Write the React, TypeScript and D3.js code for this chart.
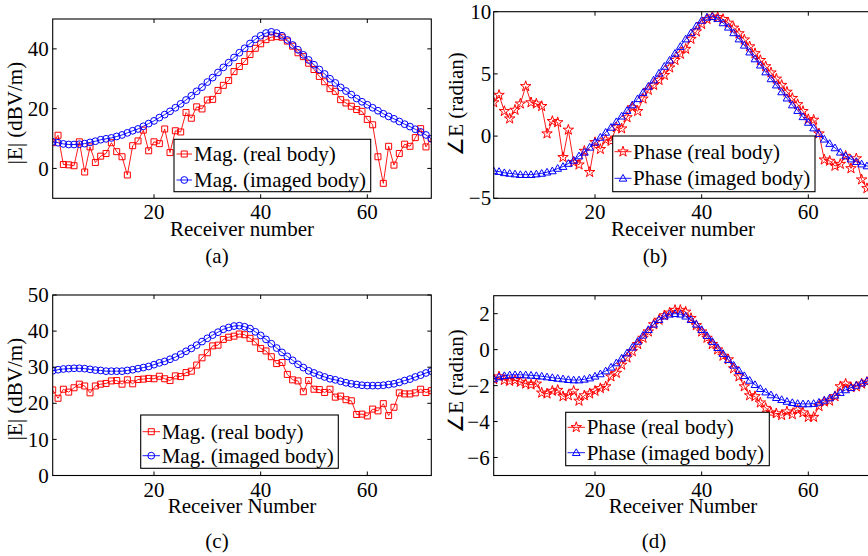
import React from "react";
import * as d3 from "d3";

// ---------- data ----------
const receivers = d3.range(1, 73);
const xTickValues = [20, 40, 60];

const magRealA = [
  8.6, 11.1, 1.3, 1.2, 0.9, 8.9, -1.2, 7.2, 2.0, 4.1,
  5.0, 8.6, 5.6, 3.9, -2.2, 7.6, 9.2, 12.8, 5.9, 8.9,
  8.3, 13.2, 5.3, 12.6, 12.2, 18.7, 16.8, 20.6, 19.9, 22.9,
  23.1, 26.1, 27.8, 29.4, 32.4, 34.1, 35.8, 38.1, 40.2, 41.7,
  43.1, 43.9, 44.1, 43.9, 42.6, 40.9, 38.7, 37.4, 35.2, 33.1,
  30.8, 29.0, 26.7, 25.8, 23.0, 21.9, 20.8, 19.7, 19.1, 16.4,
  14.6, 3.9, -5.0, 7.4, 1.1, 5.0, 8.1, 7.4, 10.3, 13.3,
  7.2, 10.0,
];
const magImagA = [
  8.9, 8.6, 8.2, 8.0, 8.0, 8.1, 8.3, 8.7, 9.1, 9.6,
  9.9, 10.2, 10.7, 11.2, 11.9, 12.6, 13.2, 14.1, 15.0, 15.9,
  17.0, 18.0, 19.1, 20.3, 21.6, 22.9, 24.3, 25.8, 27.2, 28.9,
  30.4, 32.1, 33.8, 35.4, 37.1, 38.7, 40.2, 41.8, 43.2, 44.4,
  45.3, 45.7, 45.3, 44.4, 43.0, 41.3, 39.7, 38.0, 36.3, 34.7,
  33.1, 31.6, 30.0, 28.6, 27.1, 25.9, 24.7, 23.4, 22.3, 21.3,
  20.3, 19.3, 18.3, 17.4, 16.6, 15.7, 14.8, 14.0, 13.1, 12.2,
  11.2, 9.9,
];
const phaseRealB = [
  2.7, 3.3, 2.0, 1.4, 2.1, 2.6, 4.0, 2.7, 2.6, 2.4,
  0.2, 1.2, 1.1, -1.7, 0.5, -2.1, -2.3, -1.2, -2.9, -0.5,
  -1.05, -0.3, -0.4, 0.7, 0.6, 1.5, 2.3, 2.0, 3.0, 3.7,
  4.1, 4.5, 4.9, 5.5, 6.1, 6.6, 7.0, 7.8, 8.4, 9.0,
  9.4, 9.6, 9.55, 9.4, 9.1, 8.7, 8.25, 7.75, 7.2, 6.65,
  6.1, 5.6, 5.1, 4.6, 4.1, 3.55, 3.05, 2.55, 2.0, 1.35,
  1.3, 0.2, -1.9, -2.0, -2.4, -2.25, -1.6, -2.6, -1.8, -3.5,
  -4.2, -4.4,
];
const phaseImagB = [
  -2.8, -2.85, -2.95, -3.0, -3.05, -3.1, -3.1, -3.1, -3.05, -3.0,
  -2.9, -2.8, -2.6, -2.45, -2.2, -1.95, -1.6, -1.3, -0.9, -0.5,
  -0.1, 0.3, 0.7, 1.15, 1.6, 2.05, 2.5, 3.0, 3.5, 4.0,
  4.5, 5.05, 5.6, 6.1, 6.65, 7.2, 7.8, 8.3, 8.85, 9.3,
  9.55, 9.6, 9.45, 9.1, 8.75, 8.3, 7.8, 7.3, 6.75, 6.2,
  5.7, 5.15, 4.6, 4.1, 3.55, 3.05, 2.5, 2.05, 1.55, 1.1,
  0.65, 0.2, -0.25, -0.6, -0.95, -1.3, -1.6, -1.85, -2.05, -2.25,
  -2.4, -2.55,
];
const magRealC = [
  23.7, 21.4, 23.9, 23.1, 24.3, 25.3, 24.8, 22.9, 24.8, 25.3,
  25.5, 26.2, 26.3, 25.3, 26.5, 25.4, 26.6, 26.7, 26.9, 26.8,
  27.5, 26.8, 26.3, 27.6, 27.4, 28.5, 28.9, 30.6, 32.6, 34.0,
  35.9, 36.1, 37.7, 38.3, 38.6, 39.2, 39.0, 38.0, 37.0, 35.2,
  34.5, 32.9, 31.0, 31.3, 28.0, 26.5, 26.2, 23.2, 26.3, 23.9,
  23.8, 23.0, 23.9, 21.7, 22.0, 21.0, 20.7, 16.9, 17.0, 16.5,
  18.4, 17.9, 19.9, 16.6, 18.9, 22.9, 22.6, 22.6, 22.9, 23.9,
  23.0, 23.5,
];
const magImagC = [
  29.0, 29.3, 29.5, 29.6, 29.7, 29.7, 29.6, 29.4, 29.2, 29.1,
  28.9, 28.9, 28.9, 28.9, 29.1, 29.3, 29.6, 29.9, 30.2, 30.7,
  31.2, 31.6, 32.2, 32.8, 33.6, 34.4, 35.2, 36.1, 37.1, 38.0,
  38.9, 39.7, 40.5, 41.0, 41.4, 41.5, 41.2, 40.7, 39.8, 38.8,
  37.7, 36.5, 35.3, 34.1, 33.0, 31.9, 30.8, 29.9, 29.0, 28.4,
  27.8, 27.3, 26.8, 26.5, 26.1, 25.7, 25.4, 25.2, 25.0, 24.9,
  24.9, 24.9, 25.0, 25.2, 25.4, 25.8, 26.3, 26.7, 27.3, 27.8,
  28.4, 28.9,
];
const phaseRealD = [
  -1.65, -1.5, -1.7, -1.75, -1.7, -1.8, -1.9, -1.95, -1.9, -2.4,
  -2.45, -2.3, -2.25, -2.6, -2.55, -2.3, -2.85, -2.55, -2.45, -2.3,
  -2.15, -2.05, -1.5, -1.3, -0.85, -0.45, -0.1, 0.3, 0.65, 1.0,
  1.4, 1.65, 1.9, 2.05, 2.2, 2.2, 2.1, 1.75, 1.35, 1.0,
  0.65, 0.3, 0.0, -0.35, -0.55, -1.05, -1.5, -2.05, -2.55, -2.6,
  -2.95, -3.25, -3.5, -3.55, -3.65, -3.45, -3.6, -3.35, -3.5, -3.75,
  -3.75, -3.15, -2.9, -2.85, -2.6, -2.05, -1.9, -2.1, -2.05, -1.9,
  -1.8, -1.7,
];
const phaseImagD = [
  -1.63, -1.52, -1.45, -1.41, -1.4, -1.4, -1.41, -1.43, -1.45, -1.48,
  -1.52, -1.56, -1.6, -1.63, -1.67, -1.69, -1.69, -1.65, -1.58, -1.48,
  -1.35, -1.19, -0.98, -0.74, -0.48, -0.19, 0.13, 0.46, 0.8, 1.11,
  1.41, 1.67, 1.86, 1.97, 2.0, 1.97, 1.86, 1.67, 1.41, 1.11,
  0.78, 0.45, 0.11, -0.22, -0.56, -0.87, -1.17, -1.45, -1.71, -1.95,
  -2.17, -2.36, -2.52, -2.67, -2.78, -2.88, -2.95, -3.0, -3.02, -3.02,
  -3.0, -2.93, -2.82, -2.69, -2.54, -2.39, -2.24, -2.12, -1.99, -1.86,
  -1.74, -1.63,
];

const yTicksA = [0, 20, 40];
const yTicksB = [-5, 0, 5, 10];
const yTicksC = [0, 10, 20, 30, 40, 50];
const yTicksD = [-6, -4, -2, 0, 2];

const legendMag = ["Mag. (real body)", "Mag. (imaged body)"];
const legendPhase = ["Phase (real body)", "Phase (imaged body)"];
const xLabelLower = "Receiver number";
const xLabelUpper = "Receiver Number";
const yLabelMag = "|E| (dBV/m)";
const yLabelPhase = "\u2220E (radian)";

// ---------- styling ----------
const FONT = '"Liberation Serif", "Times New Roman", Times, serif';
const RED = "#ff0000";
const BLUE = "#0000ff";
const FS = 21;

type MarkerKind = "square" | "circle" | "star" | "triangle";

function Marker({ kind, x, y, color }: { kind: MarkerKind; x: number; y: number; color: string }) {
  if (kind === "circle") {
    return <circle cx={x} cy={y} r={3.4} fill="none" stroke={color} strokeWidth={1} />;
  }
  const type =
    kind === "square" ? d3.symbolSquare : kind === "star" ? d3.symbolStar : d3.symbolTriangle;
  const size = kind === "square" ? 36 : kind === "star" ? 34 : 26;
  const d = d3.symbol().type(type).size(size)() as string;
  return (
    <path
      d={d}
      transform={`translate(${x},${y + (kind === "triangle" ? 0.6 : 0)})`}
      fill="none"
      stroke={color}
      strokeWidth={1}
    />
  );
}

type Series = { values: number[]; color: string; marker: MarkerKind };

type PanelProps = {
  id: string;
  frame: { x0: number; x1: number; y0: number; y1: number };
  yDomain: [number, number];
  yTicks: number[];
  series: Series[];
  legendLabels: string[];
  legendBox: { x0: number; x1: number; y0: number; y1: number; rows: number[]; lx0: number; lx1: number; tx: number };
  yLabel: { text: string; x: number; y: number };
  xLabel: string;
  caption: { text: string; x: number; y: number };
  yLabelGap: number;
};

const fmt = (v: number) => (v < 0 ? "\u2212" + Math.abs(v) : String(v));

function Panel(p: PanelProps) {
  const { frame } = p;
  const x = d3.scaleLinear().domain([1, 72]).range([frame.x0, frame.x1]);
  const y = d3.scaleLinear().domain(p.yDomain).range([frame.y1, frame.y0]);
  const line = d3
    .line<number>()
    .x((_, i) => x(receivers[i]))
    .y((d) => y(d));
  const tl = 4;
  const clipId = `clip-${p.id}`;
  return (
    <g>
      <defs>
        <clipPath id={clipId}>
          <rect x={frame.x0} y={frame.y0} width={frame.x1 - frame.x0} height={frame.y1 - frame.y0} />
        </clipPath>
      </defs>
      <rect
        x={frame.x0}
        y={frame.y0}
        width={frame.x1 - frame.x0}
        height={frame.y1 - frame.y0}
        fill="white"
      />
      <g clipPath={`url(#${clipId})`}>
        {p.series.map((s, si) => (
          <g key={si}>
            <path d={line(s.values) as string} fill="none" stroke={s.color} strokeWidth={0.9} />
            {s.values.map((v, i) => (
              <Marker key={i} kind={s.marker} x={x(receivers[i])} y={y(v)} color={s.color} />
            ))}
          </g>
        ))}
      </g>
      {/* ticks */}
      {xTickValues.map((t) => (
        <g key={`xt${t}`}>
          <line x1={x(t)} x2={x(t)} y1={frame.y1} y2={frame.y1 - tl} stroke="black" strokeWidth={1} />
          <line x1={x(t)} x2={x(t)} y1={frame.y0} y2={frame.y0 + tl} stroke="black" strokeWidth={1} />
          <text x={x(t)} y={frame.y1 + 21} textAnchor="middle" fontFamily={FONT} fontSize={FS}>
            {fmt(t)}
          </text>
        </g>
      ))}
      {p.yTicks.map((t) => (
        <g key={`yt${t}`}>
          <line x1={frame.x0} x2={frame.x0 + tl} y1={y(t)} y2={y(t)} stroke="black" strokeWidth={1} />
          <line x1={frame.x1} x2={frame.x1 - tl} y1={y(t)} y2={y(t)} stroke="black" strokeWidth={1} />
          <text
            x={frame.x0 - p.yLabelGap}
            y={y(t)}
            dy="0.34em"
            textAnchor="end"
            fontFamily={FONT}
            fontSize={FS}
          >
            {fmt(t)}
          </text>
        </g>
      ))}
      <rect
        x={frame.x0}
        y={frame.y0}
        width={frame.x1 - frame.x0}
        height={frame.y1 - frame.y0}
        fill="none"
        stroke="black"
        strokeWidth={1.1}
      />
      {/* legend */}
      <rect
        x={p.legendBox.x0}
        y={p.legendBox.y0}
        width={p.legendBox.x1 - p.legendBox.x0}
        height={p.legendBox.y1 - p.legendBox.y0}
        fill="white"
        stroke="black"
        strokeWidth={1.1}
      />
      {p.series.map((s, si) => {
        const ry = p.legendBox.rows[si];
        const lb = p.legendBox;
        return (
          <g key={`lg${si}`}>
            <line x1={lb.lx0} x2={lb.lx1} y1={ry} y2={ry} stroke={s.color} strokeWidth={0.9} />
            <Marker kind={s.marker} x={(lb.lx0 + lb.lx1) / 2} y={ry} color={s.color} />
            <text x={lb.tx} y={ry + 7} fontFamily={FONT} fontSize={FS}>
              {p.legendLabels[si]}
            </text>
          </g>
        );
      })}
      {/* axis labels */}
      <text
        x={(frame.x0 + frame.x1) / 2}
        y={frame.y1 + 37.5}
        textAnchor="middle"
        fontFamily={FONT}
        fontSize={FS}
      >
        {p.xLabel}
      </text>
      <text
        transform={`translate(${p.yLabel.x},${p.yLabel.y}) rotate(-90)`}
        textAnchor="middle"
        dy="0.3em"
        fontFamily={FONT}
        fontSize={FS}
      >
        {p.yLabel.text}
      </text>
      <text x={p.caption.x} y={p.caption.y} textAnchor="middle" fontFamily={FONT} fontSize={FS}>
        {p.caption.text}
      </text>
    </g>
  );
}

export default function App() {
  return (
    <svg
      width={868}
      height={556}
      viewBox="0 0 868 556"
      style={{ position: "absolute", left: 0, top: 0, background: "white" }}
    >
      <rect x={0} y={0} width={868} height={556} fill="white" />
      <Panel
        id="a"
        frame={{ x0: 52.7, x1: 431.3, y0: 19, y1: 198.3 }}
        yDomain={[-10, 50]}
        yTicks={yTicksA}
        series={[
          { values: magRealA, color: RED, marker: "square" },
          { values: magImagA, color: BLUE, marker: "circle" },
        ]}
        legendLabels={legendMag}
        legendBox={{ x0: 174, x1: 370.7, y0: 139.3, y1: 191.7, rows: [154, 180], lx0: 176.5, lx1: 192, tx: 194 }}
        yLabel={{ text: yLabelMag, x: 16, y: 113 }}
        xLabel={xLabelLower}
        caption={{ text: "(a)", x: 217, y: 263 }}
        yLabelGap={4}
      />
      <Panel
        id="b"
        frame={{ x0: 493.7, x1: 872.3, y0: 11.7, y1: 198.3 }}
        yDomain={[-5, 10]}
        yTicks={yTicksB}
        series={[
          { values: phaseRealB, color: RED, marker: "star" },
          { values: phaseImagB, color: BLUE, marker: "triangle" },
        ]}
        legendLabels={legendPhase}
        legendBox={{ x0: 612.7, x1: 815, y0: 136, y1: 191.7, rows: [151.7, 178.3], lx0: 614.5, lx1: 631.5, tx: 633 }}
        yLabel={{ text: yLabelPhase, x: 457, y: 104 }}
        xLabel={xLabelLower}
        caption={{ text: "(b)", x: 655, y: 263 }}
        yLabelGap={2.5}
      />
      <Panel
        id="c"
        frame={{ x0: 52.7, x1: 431.3, y0: 295, y1: 475.5 }}
        yDomain={[0, 50]}
        yTicks={yTicksC}
        series={[
          { values: magRealC, color: RED, marker: "square" },
          { values: magImagC, color: BLUE, marker: "circle" },
        ]}
        legendLabels={legendMag}
        legendBox={{ x0: 140.7, x1: 338.3, y0: 415, y1: 468.3, rows: [431.7, 455.7], lx0: 142.5, lx1: 160, tx: 161.7 }}
        yLabel={{ text: yLabelMag, x: 16, y: 389 }}
        xLabel={xLabelUpper}
        caption={{ text: "(c)", x: 217, y: 548 }}
        yLabelGap={4}
      />
      <Panel
        id="d"
        frame={{ x0: 493.7, x1: 872.3, y0: 295.7, y1: 475.5 }}
        yDomain={[-7, 3]}
        yTicks={yTicksD}
        series={[
          { values: phaseRealD, color: RED, marker: "star" },
          { values: phaseImagD, color: BLUE, marker: "triangle" },
        ]}
        legendLabels={legendPhase}
        legendBox={{ x0: 565.7, x1: 769.3, y0: 412.3, y1: 465.7, rows: [427.3, 452.7], lx0: 567.5, lx1: 585, tx: 586.7 }}
        yLabel={{ text: yLabelPhase, x: 457, y: 381 }}
        xLabel={xLabelUpper}
        caption={{ text: "(d)", x: 654, y: 548 }}
        yLabelGap={4}
      />
    </svg>
  );
}
